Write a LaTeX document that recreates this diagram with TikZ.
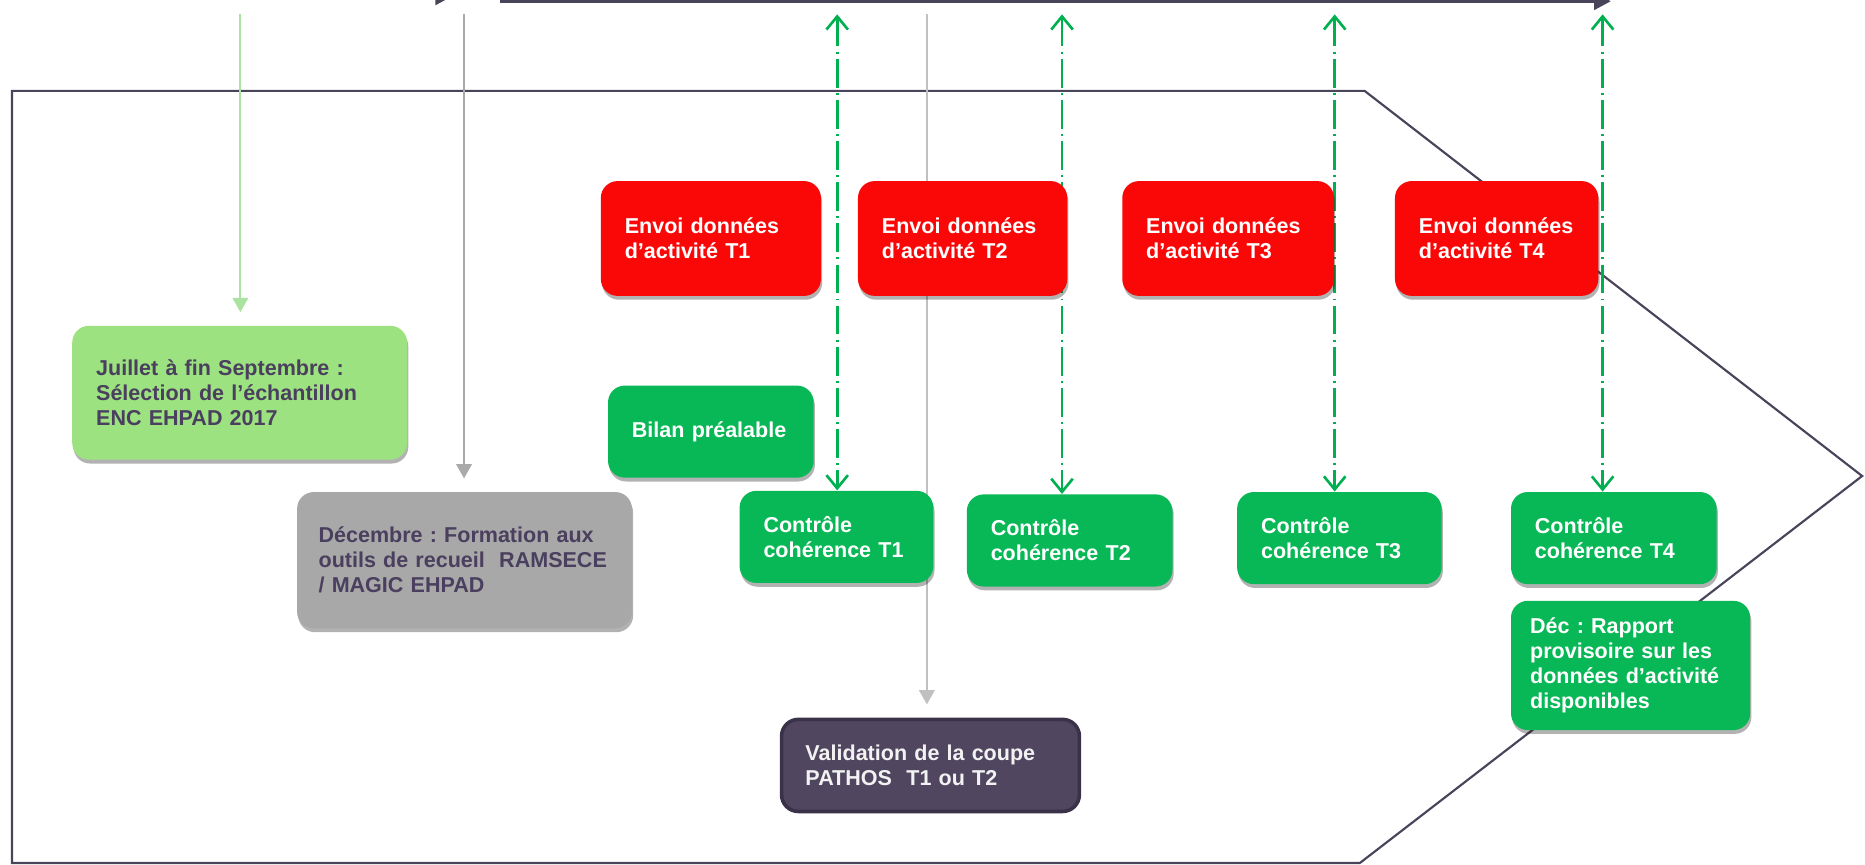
\documentclass[tikz,border=0pt]{standalone}
\usepackage{fontspec}
\setmainfont{Liberation Sans}
\usetikzlibrary{arrows.meta,shadows,backgrounds}
\frenchspacing

\definecolor{rouge}{RGB}{250,8,8}
\definecolor{vertfonce}{RGB}{8,184,86}
\definecolor{vertclair}{RGB}{157,226,128}
\definecolor{grisbox}{RGB}{168,168,168}
\definecolor{prune}{RGB}{74,63,94}
\definecolor{violetbox}{RGB}{80,70,96}
\definecolor{violetbord}{RGB}{58,50,72}
\definecolor{trait}{RGB}{74,68,90}
\definecolor{vertfleche}{RGB}{170,226,160}
\definecolor{grisfleche}{RGB}{170,170,170}
\definecolor{grisclair}{RGB}{192,192,192}
\definecolor{vertpoint}{RGB}{0,176,80}

\tikzset{
  boite/.style={rounded corners=7pt, anchor=north west, align=left, inner xsep=10pt, inner ysep=2pt,
    font=\fontsize{9}{10.5}\selectfont\bfseries},
  etape/.style={boite, drop shadow={shadow xshift=0.5pt, shadow yshift=-1.6pt, opacity=0.3, fill=black}},
  envoi/.style={etape, fill=rouge, text=white, minimum height=48pt},
  vert/.style={etape, fill=vertfonce, text=white},
  clair/.style={etape, fill=vertclair, text=prune},
  gris/.style={etape, fill=grisbox, text=prune},
  valid/.style={boite, fill=violetbox, draw=violetbord, line width=1.5pt, text=white!95!black},
  contour/.style={draw=trait, line width=0.9pt},
  frise/.style={draw=trait, line width=1.5pt, -{Triangle[length=7pt,width=7pt]}},
  fleche/.style={line width=0.9pt, -{Triangle[length=6pt,width=6.5pt]}, shorten >=5.5pt},
  pointille/.style={vertpoint, line width=1.1pt, dash pattern=on 12pt off 2.2pt on 0.8pt off 2.2pt,
    {Straight Barb[length=5.5pt,width=9pt]}-{Straight Barb[length=5.5pt,width=9pt]}}
}

\begin{document}
\begin{tikzpicture}[x=0.5pt,y=-0.5pt]
\useasboundingbox (0,0) rectangle (1559.4,723.2);

% boites de gauche
\node[clair, text width=120pt, minimum height=56pt] (juillet) at (60,272)
  {Juillet à fin Septembre :\\Sélection de l’échantillon\\ENC EHPAD 2017};
\node[gris, inner xsep=9pt, text width=122pt, minimum height=57pt] (decembre) at (248,411)
  {Décembre : Formation aux\\outils de recueil~~RAMSECE\\/ MAGIC EHPAD};

% envois trimestriels
\foreach \x/\tw/\tr in {502/72/1, 717/67.5/2, 938/68.5/3, 1166/65/4}
  \node[envoi, text width=\tw pt] (envoi\tr) at (\x,151) {Envoi données\\d’activité T\tr};

\node[vert, text width=66pt, minimum height=38.5pt] (bilan) at (508,322) {Bilan préalable};

% controles
\foreach \x/\y/\tw/\tr in {618/410/61/1, 808/413/66/2, 1034/411/65.5/3, 1263/411/66/4}
  \node[vert, text width=\tw pt, minimum height=38.5pt] (ctrl\tr) at (\x,\y) {Contrôle\\cohérence T\tr};

\node[vert, inner xsep=8pt, text width=84pt, minimum height=54pt] (rapport) at (1263,502)
  {Déc : Rapport\\provisoire sur les\\données d’activité\\disponibles};
\node[valid, text width=104.5pt, minimum height=38.5pt] (validation) at (652,600)
  {Validation de la coupe\\PATHOS~~T1 ou T2};

\begin{scope}[on background layer]
  % contour en fleche
  \draw[contour] (10,76) -- (1141,76) -- (1557,398) -- (1137,721.6) -- (10,721.6) -- cycle;
  % frise du haut
  \coordinate (f0) at (0,-3);
  \coordinate (f1) at (378,-3);
  \coordinate (f2) at (418,1);
  \coordinate (f3) at (1347,1);
  \draw[frise] (f0) -- (f1);
  \draw[frise] (f2) -- (f3);
  % fleches vers les boites
  \coordinate (s1) at (201,12);
  \coordinate (s2) at (388,12);
  \coordinate (s3) at (775,12);
  \draw[fleche, vertfleche] (s1) -- (juillet.north -| s1);
  \draw[fleche, grisfleche] (s2) -- (decembre.north -| s2);
  \draw[fleche, grisclair] (s3) -- (validation.north -| s3);
  \foreach \x/\tr in {700/1, 888/2, 1116/3, 1340/4}{
    \coordinate (h\tr) at (\x,12);
    \draw[pointille] (h\tr) -- (ctrl\tr.north -| h\tr);
  }
\end{scope}
\end{tikzpicture}
\end{document}
